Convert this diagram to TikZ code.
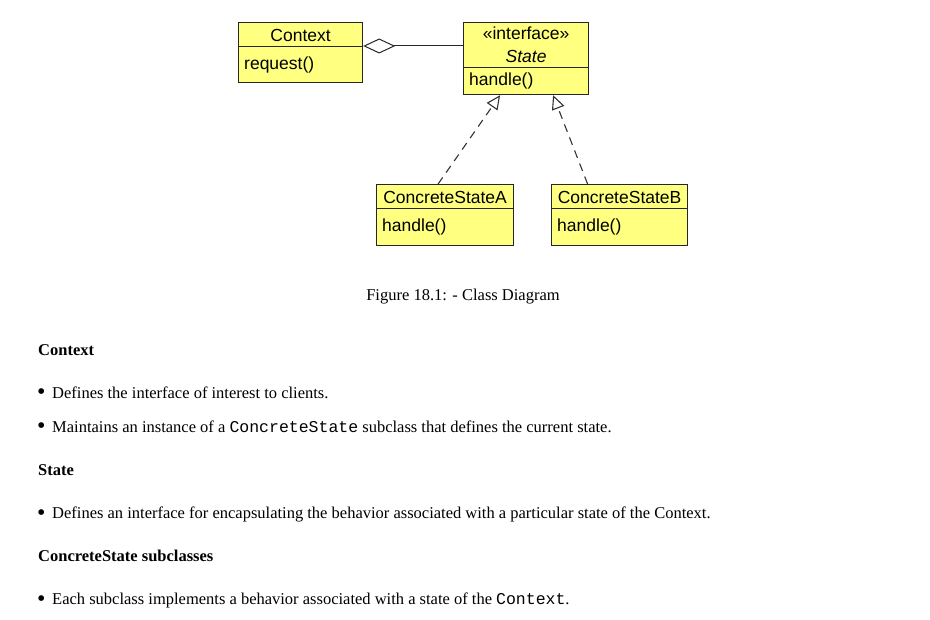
\documentclass[tikz,border=0pt]{standalone}
\usepackage{fontspec}
\setmainfont{Liberation Serif}
\setsansfont{Liberation Sans}
\setmonofont{Liberation Mono}
\usetikzlibrary{arrows.meta}
\definecolor{umlyellow}{RGB}{255,255,128}

\begin{document}
\begin{tikzpicture}[x=1pt, y=-1pt,
  box/.style={draw=black!85, line width=1.2pt, fill=umlyellow, anchor=north west, inner sep=0pt},
  uml/.style={font=\fontsize{17.5}{23}\selectfont\sffamily, inner sep=0pt, text=black},
  body/.style={font=\fontsize{16.5}{20}\selectfont, inner sep=0pt, anchor=west},
  assoc/.style={{Diamond[open,length=32pt,width=15pt]}-, line width=1pt, black!85},
  realize/.style={-{Triangle[open,length=14pt,width=13pt]}, line width=1.1pt, black!80, dash pattern=on 8pt off 6pt}]

  \useasboundingbox (0,0) rectangle (930,620);

	%class boxes
    \foreach \x/\y/\w/\h/\name in { 238/22/124/24/ctx, 238/46/124/36/ctxop, 463/22/125/45/state, 463/67/125/27/stateop,
                                    376/184/137/24/csa, 376/208/137/37/csaop, 551/184/136/24/csb, 551/208/136/37/csbop}{
           \node[box, minimum width=\w pt, minimum height=\h pt] (\name) at (\x,\y) {};
    }

	%class names
    \foreach \b/\txt in { ctx/Context, csa/ConcreteStateA, csb/ConcreteStateB}{
           \node[uml] (\b-t) at ([yshift=-1pt]\b.center) {\txt};
    }
    \node[uml, align=center] (state-t) at (state.center) {«interface»\\\textit{State}};

	%operations
    \foreach \b/\txt in { ctxop/request(), stateop/handle(), csaop/handle(), csbop/handle()}{
           \node[uml, anchor=west] (\b-t) at ([xshift=6pt]\b.west) {\txt};
    }

	%links
    \draw[assoc] (ctxop.north east) -- (ctxop.north east -| state.west);
    \draw[realize] ([xshift=-7pt]csa.north) -- ([xshift=-26pt]stateop.south);
    \draw[realize] ([xshift=-32pt]csb.north) -- ([xshift=27pt]stateop.south);

	%caption
    \node[body, anchor=center] (cap) at (463,297) {Figure 18.1: - Class Diagram};

	%headings
    \foreach \y/\txt/\name in { 350/Context/h1, 470/State/h2, 556/ConcreteState subclasses/h3}{
           \node[body] (\name) at (38,\y) {\bfseries \txt};
    }

	%bullets
    \foreach \y/\txt/\name in { 393/{Defines the interface of interest to clients.}/b1,
                                427/{Maintains an instance of a \texttt{ConcreteState} subclass that defines the current state.}/b2,
                                514/{Defines an interface for encapsulating the behavior associated with a particular state of the Context.}/b3,
                                600/{Each subclass implements a behavior associated with a state of the \texttt{Context}.}/b4}{
           \node[body] (\name-dot) at (37,\y+1) {\fontsize{24}{24}\selectfont\textbullet};
           \node[body] (\name) at (52,\y) {\txt};
    }

\end{tikzpicture}
\end{document}
